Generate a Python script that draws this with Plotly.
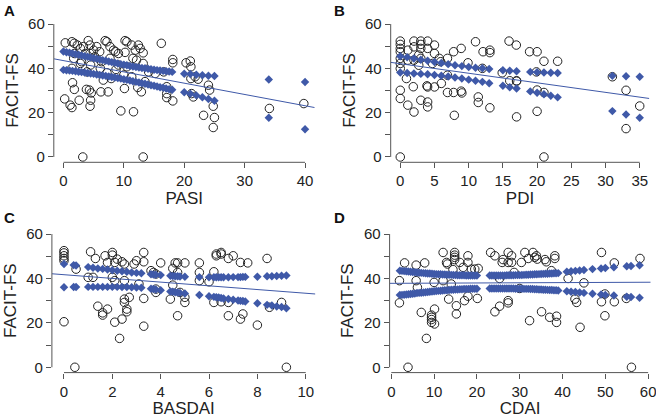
import plotly.graph_objects as go

# ---------------- data ----------------
# Panel A: PASI vs FACIT-FS
A_x = [0.3,1.4,1.8,2.3,2.8,3.3,3.6,4.1,4.4,5.0,5.5,6.0,6.9,7.2,7.7,8.3,8.6,9.1,10.2,10.5,10.2,11.3,11.9,12.4,12.7,13.2,16.2,1.8,5.2,4.4,
       1.7,3.0,2.8,6.3,7.7,9.1,10.5,12.1,13.2,1.4,6.1,8.7,18.1,18.1,20.3,21.0,21.1,11.5,4.5,
       3.9,7.2,7.9,11.3,14.1,15.2,16.6,6.6,1.5,21.1,21.8,22.3,10.0,13.5,
       1.8,3.8,4.3,4.6,6.2,7.4,10.1,12.3,12.9,17.1,17.1,17.1,18.1,21.2,21.5,24.0,24.2,0.2,2.6,4.5,
       1.1,1.4,4.4,9.5,11.6,23.2,24.8,25.0,24.8,34.1,39.8,3.2,13.2]
A_y = [51.5,52,51.3,50.5,49,49.8,46.7,52.5,50.5,48.2,49.8,47.5,52.5,52,49.8,48.2,47.5,46.7,52.5,52,47.2,50.5,48.2,50.5,49,47,51.3,46.7,45.2,46.7,
       44.5,43,42.2,43,44.5,41.5,40.7,43.7,42.2,40,40,39.5,44,42.5,42.5,43.3,40.7,44.5,41.5,
       38.4,38,35.4,36.2,38.4,37.7,38.4,34.7,33.5,35.4,36.2,35.1,37,34,
       30.5,30.5,30.2,28.9,29.4,29.4,30.9,31.4,29.4,31.7,28.6,26.8,25.3,28.6,27.1,32.4,30.2,26.2,25.6,25.6,
       23.4,22.3,22.9,20.8,20.4,18.8,22.9,17.8,13.3,21.9,24.1,0,0]
A_ci_x = [0,1,2,3,4,5,6,7,8,9,10,11,12,13,14,15,16,17,18,20,21,22,23,24,25,34,40,
          0.5,1.5,2.5,3.5,4.5,5.5,6.5,7.5,8.5,9.5,10.5,11.5,12.5,13.5,14.5,15.5,16.5,17.5]
A_upper = [47.6,47.0,46.4,45.8,45.2,44.6,44.0,43.4,42.8,42.2,41.6,41.1,40.6,40.2,39.8,39.4,39.0,38.7,38.4,
           37.6,37.4,37.1,36.9,36.7,36.5,35.0,33.8,
           47.3,46.7,46.1,45.5,44.9,44.3,43.7,43.1,42.5,41.9,41.35,40.85,40.4,40.0,39.6,39.2,38.85,38.55]
A_lower = [39.3,39.0,38.7,38.3,37.9,37.5,37.0,36.6,36.1,35.6,35.1,34.5,33.9,33.3,32.7,32.1,31.5,30.9,30.3,
           29.2,28.5,27.8,27.0,26.2,25.4,17.7,12.5,
           39.15,38.85,38.5,38.1,37.7,37.25,36.8,36.35,35.85,35.35,34.8,34.2,33.6,33.0,32.4,31.8,31.2,30.6]
A_line_x = [-1.6, 41.6]
A_line_y = [44.3, 22.3]

# Panel B: PDI vs FACIT-FS
B_x = [0,0,0,0,0,0,0,0,0,0,
       1.1,0.9,1.1,1.1,
       2,2,1.9,2,2,
       3,3,3,3,3,2.7,2.7,
       4,4,3.9,4,4,4,4.7,
       5,5,5,5.7,5.9,6,
       6.9,6.9,6.9,7.8,7.8,7.9,8.9,8.9,9.0,9.9,
       11,11.4,11.4,12.1,12.0,13.1,13.1,13.1,
       14.9,15.9,16,16.96,17,17,17,18.9,20,20,20,19.9,21,21,21,23,
       31,33,33,35]
B_y = [52.3,50.8,49,47.5,44.5,39.9,30.1,26.4,0,42.2,
       48.2,35.4,23.4,43.7,
       52.3,49.7,31.7,20.3,43.7,
       52.3,50.8,49,44.5,25.6,41.4,46,
       52.3,49,32.1,31.6,24.8,22.6,42.2,
       50.5,46.7,31.6,44.5,43,33.2,
       44.5,36.9,29.1,47.5,29.1,18.8,49,29.7,28.9,42.5,
       52,27.1,24.6,47.5,40,48.2,47.1,22.2,
       38,52.3,34.4,50.5,34.2,18.1,34.4,47.5,47.5,20.6,30.2,38.4,43.2,29.1,0,43.2,
       36.2,30.1,12.8,23]
B_ci_x = [0,1,2,3,4,5,6,7,8,9,10,11,12,13,15,16,17,19,20,21,22,23,31,33,35]
B_upper = [45.5,45.0,44.4,43.9,43.4,42.9,42.4,41.9,41.4,41.0,40.6,40.3,40.0,39.7,39.1,38.9,38.7,38.4,38.2,38.1,38.0,37.9,36.6,36.4,36.2]
B_lower = [38.1,37.9,37.7,37.5,37.3,37.0,36.7,36.3,35.9,35.4,34.9,34.4,33.9,33.3,32.1,31.5,30.9,29.6,29.0,28.3,27.6,26.9,20.7,19.2,17.7]
B_line_x = [-1.4, 36.4]
B_line_y = [42.7, 26.4]

# Panel C: BASDAI vs FACIT-FS
C_x = [0,0,0,0,0,0,0.45,0.5,
       1.1,1.3,1.0,1.2,1.4,1.6,1.6,1.8,1.7,1.8,
       2.0,2.0,2.1,2.2,2.0,2.1,2.1,2.3,
       2.4,2.5,2.4,2.5,2.5,2.6,2.6,2.7,2.5,
       2.9,3.0,3.3,3.3,3.3,3.3,3.1,
       3.6,3.7,3.8,3.8,4.0,3.8,
       4.4,4.5,4.6,4.7,4.7,4.5,4.7,4.8,
       5.0,5.0,5.0,5.6,5.6,5.6,
       6.0,6.2,6.3,6.3,6.5,6.5,6.2,6.5,
       6.8,7.0,6.8,6.8,7.3,7.3,7.4,7.6,
       8.0,8.4,8.5,9.0,9.2]
C_y = [52.5,51.5,50.2,49,48,20.5,0,44.2,
       52,49,40.5,40.5,27.5,24.5,23.5,26.2,50.2,47.2,
       51.7,50.5,47.2,48.7,40.5,39,20.3,13,
       47.5,46.5,21.7,30.7,29.2,25,26.2,31.5,39,
       46.5,48,51.7,47.5,31,18.5,37.5,
       43.5,42.7,42,33.7,47,35.2,
       30.7,44.5,47,47,23.2,37,42.7,33.7,
       47,29.2,31.5,47,42.7,39,
       38.5,43,50.2,51,51.7,51,29.2,29.5,
       49,50.2,29.2,23.2,47.2,21.7,24,47,
       19,49,27,29.2,0]
C_ci_x = [0,0.4,0.5,1.0,1.2,1.4,1.6,1.8,2.0,2.2,2.4,2.6,2.8,3.0,3.2,3.6,3.7,3.8,4.0,
          4.4,4.5,4.6,4.7,4.8,5.0,5.6,6.0,6.2,6.3,6.4,6.5,6.6,6.8,7.0,7.2,7.3,7.4,7.5,
          8.0,8.4,8.6,8.8,9.0,9.2]
C_upper = [46.5,46.0,45.8,45.1,44.8,44.5,44.3,44.0,43.7,43.5,43.2,43.0,42.7,42.5,42.3,41.9,41.8,41.7,41.5,
           41.2,41.1,41.0,41.0,40.9,40.8,40.6,40.5,40.5,40.5,40.5,40.5,40.5,40.5,40.6,40.6,40.6,40.7,40.7,
           40.8,41.0,41.0,41.1,41.2,41.3]
C_lower = [36.0,36.1,36.1,36.2,36.2,36.2,36.2,36.2,36.2,36.2,36.1,36.1,36.0,35.9,35.8,35.4,35.2,35.0,34.7,
           34.1,34.0,33.8,33.7,33.5,33.2,32.5,32.0,31.7,31.5,31.4,31.2,31.0,30.7,30.4,30.1,29.9,29.8,29.6,
           28.8,28.1,27.8,27.4,27.1,26.6]
C_line_x = [-0.5, 10.4]
C_line_y = [42.1, 33.0]

# Panel D: CDAI vs FACIT-FS
D_x = [1.9,1.9,3.1,5.8,5.8,6.1,7.0,7.8,9.4,9.4,9.4,9.4,10.1,10.1,8.2,10.0,3.9,
       12.1,12.1,12.9,13.1,13.4,14.0,14.4,14.8,14.8,14.8,14.8,15.2,15.2,16.0,16.8,17.1,17.9,17.9,17.9,18.7,19.5,20.1,20.3,
       23.2,24.2,24.2,25.3,25.3,25.9,26.1,27.3,27.3,27.3,27.3,28.1,28.1,28.7,30.0,30.4,31.2,32.0,32.3,33.1,33.5,33.9,34.1,
       35.1,35.9,36.2,37.0,37.4,38.2,38.2,38.6,38.6,
       41.3,42.9,43.3,44.1,45.0,49.1,49.1,49.9,49.9,52.1,52.1,54.9,56.1,58.1]
D_y = [39,29,47,46,39,36,24.7,47,23.5,22.5,21.5,20.2,26.2,19.5,13,38.2,0,
       51.7,39,47.2,46.5,30.7,37.5,44,51.7,50.5,49.5,48.5,27.7,24,47.2,45,30,50.2,47.2,32,44.2,44.2,31,44.5,
       51.7,50.2,25,40,27.5,47.2,48.5,51.7,47.2,30,29,50.2,47.2,42.7,35.5,47.2,51.7,49,21,51.7,49.5,50.2,48.7,
       25,48.5,47.5,22.5,43.5,50.2,49,23,20.2,
       40,30.7,29.2,18,38,51.7,29.5,33,23.2,47,29.5,31,0,49]
D_ci_x = [2,3,4,5,6,7,8,9,10,11,12,13,14,15,16,17,18,19,20,
          23,24,25,26,27,28,29,30,31,32,33,34,35,36,37,38,39,
          41,42,43,44,45,47,49,50,52,55,56,58,
          2.5,3.5,4.5,5.5,6.5,7.5,8.5,9.5,10.5,11.5,12.5,13.5,14.5,15.5,16.5,17.5,18.5,19.5,
          23.5,24.5,25.5,26.5,27.5,28.5,29.5,30.5,31.5,32.5,33.5,34.5,35.5,36.5,37.5,38.5]
D_upper = [43.5,43.3,43.1,42.9,42.7,42.5,42.3,42.2,42.0,41.9,41.8,41.7,41.6,41.5,41.4,41.4,41.3,41.3,41.3,
           41.3,41.3,41.3,41.3,41.4,41.4,41.5,41.5,41.6,41.7,41.8,41.9,42.0,42.1,42.2,42.3,42.4,
           43.0,43.2,43.4,43.6,43.8,44.2,44.5,44.7,45.0,45.5,45.6,45.9,
           43.4,43.2,43.0,42.8,42.6,42.4,42.25,42.1,41.95,41.85,41.75,41.65,41.55,41.45,41.4,41.35,41.3,41.3,
           41.3,41.3,41.3,41.35,41.4,41.45,41.5,41.55,41.65,41.75,41.85,41.95,42.05,42.15,42.25,42.35]
D_lower = [32.5,32.7,32.9,33.1,33.4,33.6,33.8,34.0,34.2,34.4,34.6,34.7,34.9,35.0,35.1,35.2,35.3,35.4,35.4,
           35.5,35.5,35.5,35.5,35.5,35.5,35.4,35.4,35.3,35.3,35.2,35.1,35.0,34.9,34.8,34.7,34.6,
           34.2,34.0,33.9,33.7,33.5,33.1,32.8,32.6,32.3,31.8,31.6,31.3,
           32.6,32.8,33.0,33.25,33.5,33.7,33.9,34.1,34.3,34.5,34.65,34.8,34.95,35.05,35.15,35.25,35.35,35.4,
           35.5,35.5,35.5,35.5,35.5,35.45,35.4,35.35,35.3,35.25,35.15,35.05,34.95,34.85,34.75,34.65]
D_line_x = [-0.4, 60.6]
D_line_y = [37.8, 38.3]

x_titles = ["PASI", "PDI", "BASDAI", "CDAI"]
panel_letters = ["A", "B", "C", "D"]
x_tickvals = [[0, 10, 20, 30, 40], [0, 5, 10, 15, 20, 25, 30, 35], [0, 2, 4, 6, 8, 10], [0, 10, 20, 30, 40, 50, 60]]
y_tickvals = [0, 10, 20, 30, 40, 50, 60]
y_ticktext = ["0", "", "20", "", "40", "", "60"]

# ---------------- styling / layout ----------------
W, H = 656, 418
BLUE = "#3F59A8"
AXC = "#555555"
FONT = "Liberation Sans, Arial, sans-serif"
TICK_SIZE = 15
TITLE_SIZE = 17

panels = [
    dict(x=A_x, y=A_y, cx=A_ci_x, cu=A_upper, cl=A_lower, lx=A_line_x, ly=A_line_y,
         xr=[-1.6, 41.6], px=(53.8, 314.7), py=(18.7, 162.3), lab=(9, 10)),
    dict(x=B_x, y=B_y, cx=B_ci_x, cu=B_upper, cl=B_lower, lx=B_line_x, ly=B_line_y,
         xr=[-1.4, 36.4], px=(390.7, 649.3), py=(18.7, 162.3), lab=(339, 10)),
    dict(x=C_x, y=C_y, cx=C_ci_x, cu=C_upper, cl=C_lower, lx=C_line_x, ly=C_line_y,
         xr=[-0.5, 10.4], px=(51.9, 315.4), py=(228.7, 372.6), lab=(9, 218)),
    dict(x=D_x, y=D_y, cx=D_ci_x, cu=D_upper, cl=D_lower, lx=D_line_x, ly=D_line_y,
         xr=[-0.4, 60.6], px=(389.6, 650.7), py=(228.7, 372.6), lab=(339, 218)),
]

fig = go.Figure()
layout = dict(width=W, height=H, margin=dict(l=0, r=0, t=0, b=0, autoexpand=False),
              paper_bgcolor="white", plot_bgcolor="white", showlegend=False,
              font=dict(family=FONT, size=TICK_SIZE, color="#222"))
shapes = []
annotations = []

for i, p in enumerate(panels):
    n = "" if i == 0 else str(i + 1)
    xa, ya = "x" + n, "y" + n
    fig.add_trace(go.Scatter(x=p["x"], y=p["y"], mode="markers", xaxis=xa, yaxis=ya,
                             marker=dict(symbol="circle-open", size=8.5, color="#222",
                                         line=dict(width=1, color="#222"))))
    fig.add_trace(go.Scatter(x=p["cx"] + p["cx"], y=p["cu"] + p["cl"], mode="markers",
                             xaxis=xa, yaxis=ya,
                             marker=dict(symbol="diamond", size=6.5, color=BLUE, line=dict(width=0))))
    fig.add_trace(go.Scatter(x=p["lx"], y=p["ly"], mode="lines", xaxis=xa, yaxis=ya,
                             line=dict(color=BLUE, width=1)))
    dom_x = [p["px"][0] / W, p["px"][1] / W]
    dom_y = [1 - p["py"][1] / H, 1 - p["py"][0] / H]
    layout["xaxis" + n] = dict(domain=dom_x, range=p["xr"], anchor=ya, showgrid=False, zeroline=False,
                               showline=False, ticks="outside", ticklen=5, tickcolor=AXC,
                               automargin=False, ticklabeloverflow="allow",
                               tickvals=x_tickvals[i],
                               tickfont=dict(size=TICK_SIZE, family=FONT, color="#222"),
                               title=dict(text=x_titles[i],
                                          font=dict(size=TITLE_SIZE, family=FONT, color="#222"),
                                          standoff=3))
    layout["yaxis" + n] = dict(domain=dom_y, range=[-2.4, 62.4], anchor=xa, showgrid=False, zeroline=False,
                               showline=False, ticks="outside", ticklen=5, tickcolor=AXC,
                               automargin=False,
                               tickvals=y_tickvals, ticktext=y_ticktext,
                               tickfont=dict(size=TICK_SIZE, family=FONT, color="#222"),
                               title=dict(text="FACIT-FS",
                                          font=dict(size=TITLE_SIZE, family=FONT, color="#222"),
                                          standoff=5))
    xt = x_tickvals[i]
    shapes.append(dict(type="line", xref=xa, yref=ya + " domain", x0=xt[0], x1=xt[-1], y0=0, y1=0,
                       line=dict(color=AXC, width=1)))
    shapes.append(dict(type="line", xref=xa + " domain", yref=ya, x0=0, x1=0, y0=0, y1=60,
                       line=dict(color=AXC, width=1)))
    annotations.append(dict(text="<b>%s</b>" % panel_letters[i], xref="paper", yref="paper",
                            x=p["lab"][0] / W, y=1 - p["lab"][1] / H, showarrow=False,
                            xanchor="center", yanchor="middle",
                            font=dict(size=15, family=FONT, color="#111")))

layout["shapes"] = shapes
layout["annotations"] = annotations
fig.update_layout(**layout)
fig.write_html("out.html", config={"displayModeBar": False},
               post_script="document.body.style.margin='0';")
